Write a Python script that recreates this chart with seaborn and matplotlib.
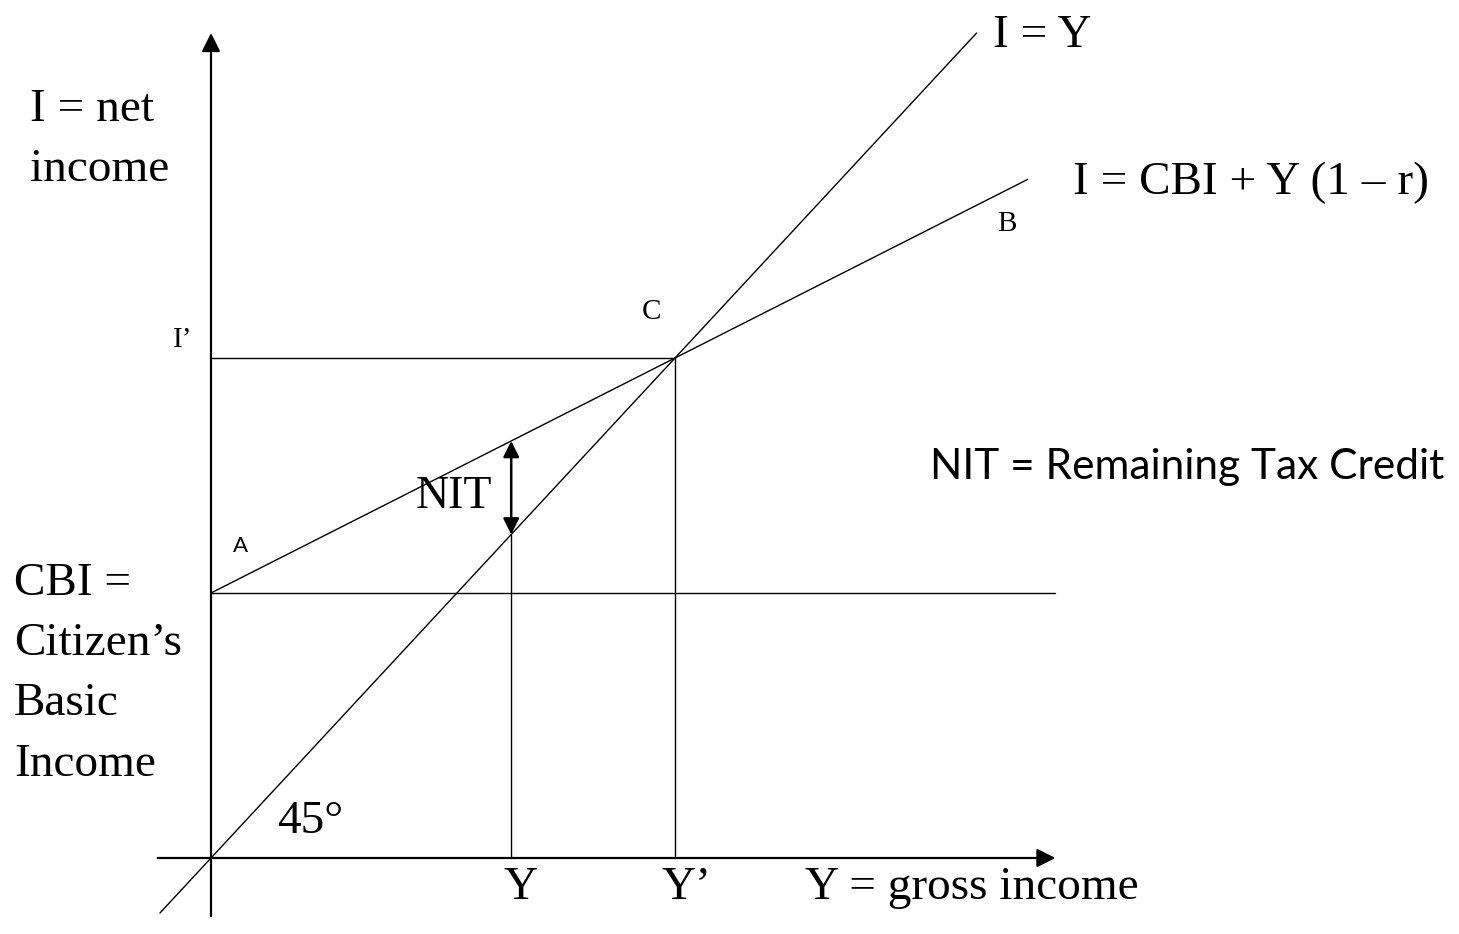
import numpy as np
import pandas as pd
import matplotlib
matplotlib.use("Agg")
import matplotlib.pyplot as plt
import seaborn as sns

# model values (diagram units)
cbi = 5.3            # citizen's basic income
tax_rate = 0.53      # r
y_low = 6.47         # gross income Y
y_prime = cbi / tax_rate   # break-even income Y'
i_prime = y_prime          # I' on the 45 degree line

x_axis_range = [-1.15, 18.2]
y_axis_range = [-1.16, 16.5]
diag_range = [-1.1, 16.5]
budget_range = [0.0, 17.6]
cbi_line_end = 18.2

sns.set_theme(style="white")
serif = ["Liberation Serif", "DejaVu Serif"]
sans = ["Lato", "DejaVu Sans"]
plt.rcParams["font.family"] = serif
plt.rcParams["text.color"] = "black"

fig = plt.figure(figsize=(14.59, 9.34), dpi=100)
ax = fig.add_axes([0, 0, 1, 1])
ax.set_xlim(-211 / 46.4, (1459 - 211) / 46.4)
ax.set_ylim((858 - 934) / 50, 858 / 50)
ax.axis("off")

# lines
diag_x = np.array(diag_range)
budget_x = np.array(budget_range)
lines = pd.concat([
    pd.DataFrame({"Y": diag_x, "I": diag_x, "curve": "I = Y"}),
    pd.DataFrame({"Y": budget_x, "I": cbi + budget_x * (1 - tax_rate), "curve": "budget"}),
    pd.DataFrame({"Y": [0, cbi_line_end], "I": [cbi, cbi], "curve": "cbi"}),
    pd.DataFrame({"Y": [0, y_prime], "I": [i_prime, i_prime], "curve": "iprime"}),
    pd.DataFrame({"Y": [y_prime, y_prime], "I": [0, i_prime], "curve": "yprime"}),
    pd.DataFrame({"Y": [y_low, y_low], "I": [0, y_low], "curve": "ylow"}),
])
sns.lineplot(data=lines, x="Y", y="I", units="curve", estimator=None,
             color="black", linewidth=1.0, sort=False, ax=ax, legend=False)

# axes with arrows
arrow_kw = dict(arrowstyle="-|>", color="black", lw=1.6, mutation_scale=28,
                shrinkA=0, shrinkB=0)
ax.annotate("", xy=(x_axis_range[1], 0), xytext=(x_axis_range[0], 0),
            arrowprops=arrow_kw)
ax.annotate("", xy=(0, y_axis_range[1]), xytext=(0, y_axis_range[0]),
            arrowprops=arrow_kw)

# NIT double arrow
nit_top = cbi + y_low * (1 - tax_rate)
ax.annotate("", xy=(y_low, nit_top), xytext=(y_low, y_low),
            arrowprops=dict(arrowstyle="<|-|>", color="black", lw=1.8,
                            mutation_scale=24, shrinkA=0, shrinkB=0))

big = 34
small = 21
ax.text(-3.9, 14.36, "I = net\nincome", fontsize=big, ha="left", va="center",
        linespacing=1.55)
ax.text(-4.25, 3.68, "CBI =\nCitizen’s\nBasic\nIncome", fontsize=big,
        ha="left", va="center", linespacing=1.55)
ax.text(1.42, 0.72, "45°", fontsize=big, ha="left", va="center")
ax.text(y_low + 0.2, -0.6, "Y", fontsize=big, ha="center", va="center")
ax.text(y_prime + 0.25, -0.6, "Y’", fontsize=big, ha="center", va="center")
ax.text(12.8, -0.6, "Y = gross income", fontsize=big, ha="left", va="center")
ax.text(-0.41, i_prime + 0.36, "I’", fontsize=small, ha="right", va="center")
ax.text(9.29, i_prime + 0.92, "C", fontsize=small, ha="left", va="center")
ax.text(16.94, 12.68, "B", fontsize=small, ha="left", va="center")
ax.text(0.47, cbi + 0.94, "A", fontsize=16, ha="left", va="center", family=sans)
ax.text(4.4, 7.22, "NIT", fontsize=33, ha="left", va="center")
ax.text(16.85, 16.45, "I = Y", fontsize=big, ha="left", va="center")
ax.text(18.58, 13.5, "I = CBI + Y (1 – r)", fontsize=big, ha="left", va="center")
ax.text(15.5, 7.83, "NIT = Remaining Tax Credit", fontsize=30.5, ha="left",
        va="center", family=sans)

fig.savefig("out.png", dpi=100, facecolor="white")
